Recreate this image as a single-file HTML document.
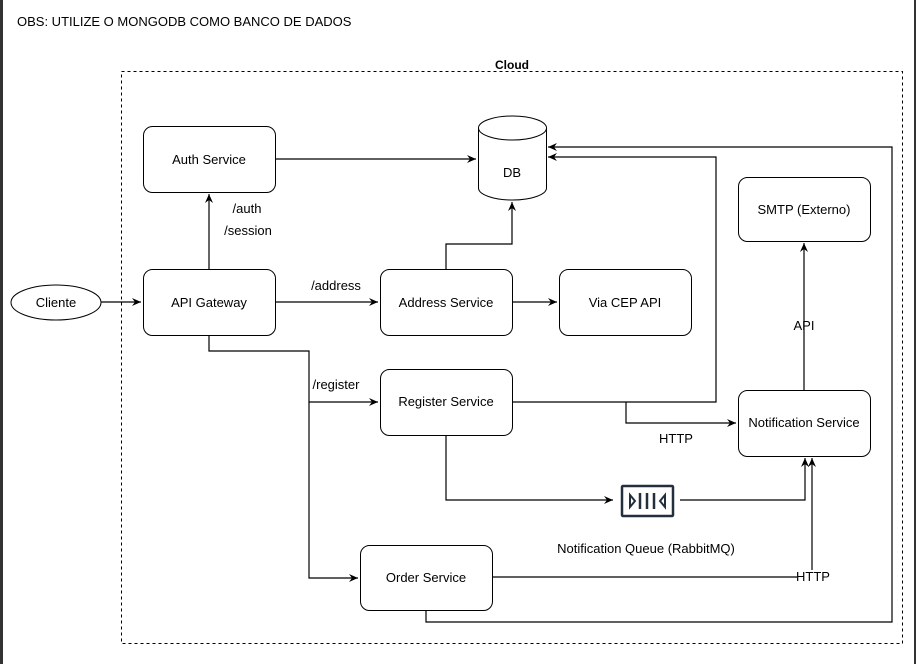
<!DOCTYPE html>
<html><head><style>
body{margin:0;background:#fff;}
svg{display:block;font-family:"Liberation Sans",Arial,sans-serif;}
</style></head><body>
<svg width="916" height="664" viewBox="0 0 916 664" xmlns="http://www.w3.org/2000/svg">
<defs>
<marker id="a" markerWidth="10" markerHeight="10" refX="9" refY="5" orient="auto" markerUnits="userSpaceOnUse">
<path d="M0,1 L9,5 L0,9 L3,5 Z" fill="#000"/>
</marker>
</defs>
<rect x="0" y="0" width="916" height="664" fill="#fff"/>
<rect x="0" y="0" width="3" height="664" fill="#333"/>
<rect x="914" y="0" width="2" height="664" fill="#333"/>
<text x="17" y="26" font-size="13">OBS: UTILIZE O MONGODB COMO BANCO DE DADOS</text>
<rect x="121.5" y="71.5" width="781" height="572" fill="none" stroke="#000" stroke-dasharray="3,3"/>
<text x="512" y="69" font-size="12" font-weight="bold" text-anchor="middle">Cloud</text>
<g fill="none" stroke="#000" stroke-width="1.2">
<path d="M275,159 H476" marker-end="url(#a)"/>
<path d="M209,269 V194" marker-end="url(#a)"/>
<path d="M101,302 H141" marker-end="url(#a)"/>
<path d="M275,302 H378" marker-end="url(#a)"/>
<path d="M446,269 V244 H512 V202" marker-end="url(#a)"/>
<path d="M512,302 H557" marker-end="url(#a)"/>
<path d="M209,335 V351 H309 V402 H378" marker-end="url(#a)"/>
<path d="M309,402 V578 H358" marker-end="url(#a)"/>
<path d="M512,402 H716 V157 H548" marker-end="url(#a)"/>
<path d="M626,402 V423 H736" marker-end="url(#a)"/>
<path d="M446,435 V500 H613" marker-end="url(#a)"/>
<path d="M680,500 H805 V458" marker-end="url(#a)"/>
<path d="M492,577 H797 M812,570 V458" marker-end="url(#a)"/>
<path d="M426,610 V622 H892 V147 H548" marker-end="url(#a)"/>
<path d="M804,390 V243" marker-end="url(#a)"/>
</g>
<g fill="#fff" stroke="#000" stroke-width="1">
<rect x="143.5" y="126.5" width="132" height="66" rx="9"/>
<rect x="738.5" y="177.5" width="132" height="64" rx="9"/>
<rect x="143.5" y="269.5" width="132" height="66" rx="9"/>
<rect x="380.5" y="269.5" width="132" height="66" rx="9"/>
<rect x="559.5" y="269.5" width="132" height="66" rx="9"/>
<rect x="380.5" y="369.5" width="132" height="66" rx="9"/>
<rect x="738.5" y="390.5" width="132" height="66" rx="9"/>
<rect x="360.5" y="545.5" width="132" height="65" rx="9"/>
<ellipse cx="56" cy="302.5" rx="45" ry="17.5"/>
<path d="M478.5,128 V188 A34,12 0 0 0 546.5,188 V128"/>
<ellipse cx="512.5" cy="128" rx="34" ry="12"/>
</g>
<g fill="none" stroke="#232f3e" stroke-width="2.5">
<rect x="622" y="486" width="51" height="30" rx="1"/>
<path d="M640,493 V509 M647,493 V509 M654,493 V509"/>
</g>
<path d="M630,495 L635,501 L630,507 Z M665,495 L660,501 L665,507 Z" fill="none" stroke="#232f3e" stroke-width="2"/>
<g font-size="13" text-anchor="middle">
<text x="209" y="164">Auth Service</text>
<text x="512" y="177">DB</text>
<text x="804" y="214">SMTP (Externo)</text>
<text x="56" y="307">Cliente</text>
<text x="209" y="307">API Gateway</text>
<text x="446" y="307">Address Service</text>
<text x="625" y="307">Via CEP API</text>
<text x="446" y="406">Register Service</text>
<text x="804" y="427">Notification Service</text>
<text x="426" y="582">Order Service</text>
<text x="247" y="213">/auth</text>
<text x="248" y="235">/session</text>
<text x="336" y="290">/address</text>
<text x="336" y="389">/register</text>
<text x="676" y="443">HTTP</text>
<text x="804" y="330">API</text>
<text x="646" y="553">Notification Queue (RabbitMQ)</text>
<text x="813" y="581">HTTP</text>
</g>
</svg>
</body></html>
